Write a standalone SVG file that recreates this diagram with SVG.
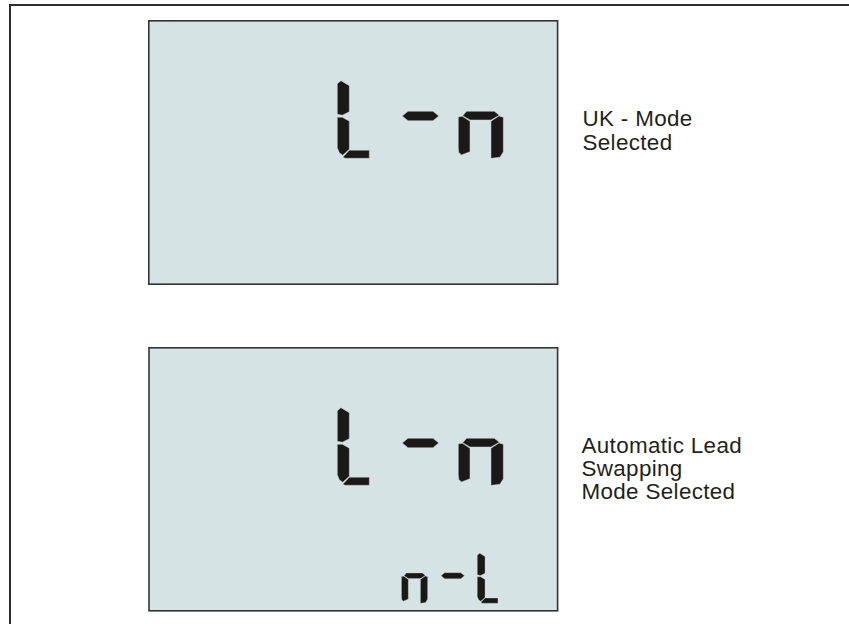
<svg xmlns="http://www.w3.org/2000/svg" width="849" height="624" viewBox="0 0 849 624">
<style>
.frame{stroke:#2e2e2e;stroke-width:2;fill:none}
.lcd{fill:#d6e3e4;stroke:#333;stroke-width:1.6}
.seg{fill:#1b1918;stroke:#c9d3d3;stroke-width:0.5}
.lbl{font-family:"Liberation Sans",Arial,sans-serif;font-size:22.4px;letter-spacing:0.35px;fill:#231f20}
</style>
<defs>
<g id="gL">
<path d="M0,3 L3.7,0 L12,5 L12,31 L5,34.5 L0,33.5 Z"/>
<path d="M0,36.5 L5,36.5 L12,40.5 L12,68.5 L5.5,74.5 L2,72 L0,67 Z"/>
<path d="M5.5,76.5 L12,69.5 L32,69.5 L32,77.6 L8,77.6 Z"/>
</g>
<path id="gD" d="M0,4.7 L5.7,0 L30.7,0 L36.4,4.7 L30.7,9.4 L5.7,9.4 Z"/>
<g id="gN">
<path d="M4.4,35 L8.4,30.6 L36,30.6 L41,34.6 L32.7,39.3 L11.7,39.3 Z"/>
<path d="M0,36.2 L4,35.6 L11.7,40.5 L11.7,71 L3,74.3 L0.5,71.5 L0,67 Z"/>
<path d="M32.7,40.5 L40.7,35.4 L45,36.5 L45,71 L41.7,76.5 L33.2,77.6 L32.7,77 Z"/>
</g>
</defs>
<rect width="849" height="624" fill="#ffffff"/>
<g id="frame">
<path class="frame" d="M10,624 L10,5 L849,5"/>
</g>
<g id="display-uk">
<rect class="lcd" x="148.8" y="20.8" width="408.8" height="263.4"/>
<g class="seg">
<use href="#gL" x="337.3" y="80.7"/>
<use href="#gD" x="402.3" y="111.3"/>
<use href="#gN" x="458.3" y="80.7"/>
</g>
</g>
<g id="label-uk">
<text class="lbl" x="582.5" y="126">UK - Mode</text>
<text class="lbl" x="582.5" y="149.5">Selected</text>
</g>
<g id="display-auto">
<rect class="lcd" x="149" y="347.8" width="408.6" height="263"/>
<g class="seg">
<use href="#gL" x="337.3" y="407.7"/>
<use href="#gD" x="402.3" y="438.3"/>
<use href="#gN" x="458.3" y="407.7"/>
</g>
<g class="seg">
<use href="#gN" transform="translate(401.5,553.3) scale(0.58,0.644)"/>
<use href="#gD" transform="translate(441,572.7) scale(0.644)"/>
<use href="#gL" transform="translate(477.3,553.3) scale(0.644)"/>
</g>
</g>
<g id="label-auto">
<text class="lbl" x="581.5" y="452.5">Automatic Lead</text>
<text class="lbl" x="581.5" y="475.5">Swapping</text>
<text class="lbl" x="581.5" y="498.5">Mode Selected</text>
</g>
<g id="connectors"/>
</svg>
